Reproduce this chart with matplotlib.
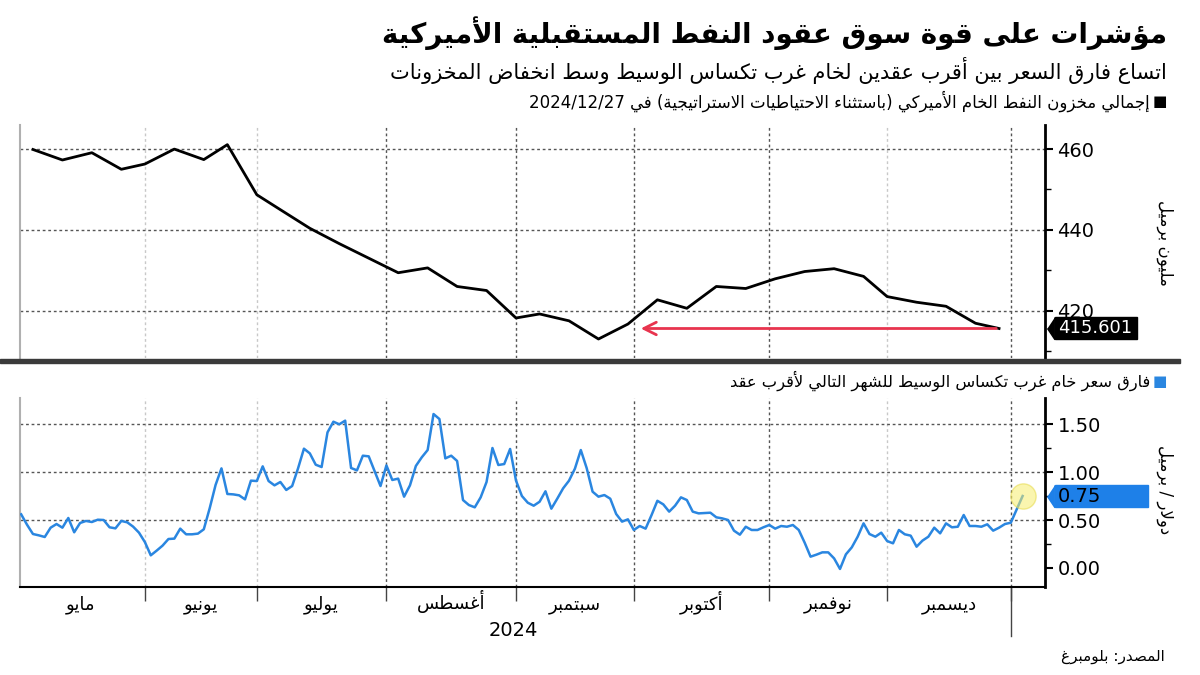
import re
import matplotlib
matplotlib.use("Agg")
import matplotlib.pyplot as plt
import matplotlib.transforms as mtransforms
from matplotlib.patches import Rectangle

# ---------------- minimal Arabic shaping (presentation forms) ----------------
DUAL = {'ئ': 0xFE89, 'ب': 0xFE8F, 'ت': 0xFE95, 'ث': 0xFE99, 'ج': 0xFE9D, 'ح': 0xFEA1,
        'خ': 0xFEA5, 'س': 0xFEB1, 'ش': 0xFEB5, 'ص': 0xFEB9, 'ض': 0xFEBD, 'ط': 0xFEC1,
        'ظ': 0xFEC5, 'ع': 0xFEC9, 'غ': 0xFECD, 'ف': 0xFED1, 'ق': 0xFED5, 'ك': 0xFED9,
        'ل': 0xFEDD, 'م': 0xFEE1, 'ن': 0xFEE5, 'ه': 0xFEE9, 'ي': 0xFEF1}
RIGHT = {'آ': 0xFE81, 'أ': 0xFE83, 'ؤ': 0xFE85, 'إ': 0xFE87, 'ا': 0xFE8D, 'ة': 0xFE93,
         'د': 0xFEA9, 'ذ': 0xFEAB, 'ر': 0xFEAD, 'ز': 0xFEAF, 'و': 0xFEED, 'ى': 0xFEEF}
NONE = {'ء': 0xFE80}
LAMALEF = {'آ': 0xFEF5, 'أ': 0xFEF7, 'إ': 0xFEF9, 'ا': 0xFEFB}


def _shape(s):
    units = []
    i = 0
    while i < len(s):
        c = s[i]
        if c == 'ل' and i + 1 < len(s) and s[i + 1] in LAMALEF:
            units.append(('LA', s[i + 1]))
            i += 2
        else:
            units.append((c, None))
            i += 1

    def jt(u):
        c = u[0]
        if c == 'LA' or c in RIGHT:
            return 'R'
        if c in DUAL or c == 'ـ':
            return 'D'
        return 'U'

    out = []
    for k, u in enumerate(units):
        t = jt(u)
        pj = k > 0 and jt(units[k - 1]) == 'D' and t in 'DR'
        nj = k + 1 < len(units) and t == 'D' and jt(units[k + 1]) in 'DR'
        c, a = u
        if c == 'LA':
            b = LAMALEF[a]
            out.append(chr(b + 1 if pj else b))
        elif c in DUAL:
            b = DUAL[c]
            out.append(chr(b + 3 if (pj and nj) else b + 1 if pj else b + 2 if nj else b))
        elif c in RIGHT:
            b = RIGHT[c]
            out.append(chr(b + 1 if pj else b))
        elif c in NONE:
            out.append(chr(NONE[c]))
        else:
            out.append(c)
    return ''.join(out)


def ar(text):
    shaped = _shape(text)
    tokens = re.findall(r'[0-9A-Za-z]+(?:[./:,][0-9A-Za-z]+)*|.', shaped, flags=re.S)
    mirror = {'(': ')', ')': '('}
    vis = []
    for t in reversed(tokens):
        if len(t) > 1 or (t.isascii() and t.isalnum()):
            vis.append(t)
        else:
            vis.append(mirror.get(t, t))
    return ''.join(vis)


# ---------------- data ----------------
title = "مؤشرات على قوة سوق عقود النفط المستقبلية الأميركية"
subtitle = "اتساع فارق السعر بين أقرب عقدين لخام غرب تكساس الوسيط وسط انخفاض المخزونات"
top_legend = "إجمالي مخزون النفط الخام الأميركي (باستثناء الاحتياطيات الاستراتيجية) في 2024/12/27"
bottom_legend = "فارق سعر خام غرب تكساس الوسيط للشهر التالي لأقرب عقد"
source = "المصدر: بلومبرغ"
top_unit = "مليون برميل"
bottom_unit = "دولار / برميل"
year_label = "2024"

months = ["مايو", "يونيو", "يوليو", "أغسطس", "سبتمبر", "أكتوبر", "نوفمبر", "ديسمبر"]
# x axis = trading-day index starting 2024-05-01; month-end trading days
month_edges = [-1, 21, 40, 62, 84, 104, 127, 147, 168]

# weekly crude inventories (million barrels), Fridays as trading-day index
inv_x = [2, 7, 12, 17, 21, 26, 31, 35, 40, 44, 49, 54, 59, 64, 69, 74, 79, 84,
         88, 93, 98, 103, 108, 113, 118, 123, 128, 133, 138, 143, 147, 152, 157, 162, 166]
inv_y = [459.9, 457.3, 459.1, 455.0, 456.3, 460.0, 457.4, 461.1, 448.7, 445.0,
         440.4, 436.6, 433.0, 429.4, 430.6, 426.0, 425.0, 418.2, 419.2, 417.5,
         413.0, 416.7, 422.7, 420.6, 426.0, 425.5, 427.9, 429.7, 430.4, 428.5,
         423.5, 422.1, 421.1, 416.9, 415.601]
inv_last = 415.601
arrow_to_x = 104.7

# WTI 1st-2nd month spread ($/bbl), daily from trading day 0
spread = [0.559, 0.45, 0.354, 0.34, 0.323, 0.42, 0.458, 0.42, 0.521, 0.372,
          0.469, 0.49, 0.479, 0.503, 0.5, 0.424, 0.413, 0.49, 0.476, 0.431,
          0.368, 0.27, 0.132, 0.181, 0.233, 0.302, 0.306, 0.41, 0.351, 0.351,
          0.358, 0.403, 0.622, 0.865, 1.038, 0.771, 0.767, 0.757, 0.715, 0.91,
          0.906, 1.059, 0.906, 0.861, 0.896, 0.813, 0.854, 1.038, 1.243, 1.194,
          1.076, 1.052, 1.413, 1.524, 1.497, 1.535, 1.042, 1.017, 1.17, 1.163,
          1.01, 0.854, 1.069, 0.917, 0.931, 0.743, 0.861, 1.063, 1.153, 1.229,
          1.604, 1.552, 1.142, 1.17, 1.115, 0.708, 0.656, 0.632, 0.736, 0.896,
          1.25, 1.073, 1.083, 1.24, 0.91, 0.75, 0.68, 0.649, 0.69, 0.799,
          0.618, 0.722, 0.83, 0.91, 1.035, 1.229, 1.04, 0.795, 0.743, 0.76,
          0.722, 0.563, 0.483, 0.507, 0.396, 0.4375, 0.41, 0.55, 0.70, 0.663,
          0.587, 0.649, 0.736, 0.708, 0.587, 0.569, 0.573, 0.576, 0.528, 0.517,
          0.5, 0.389, 0.347, 0.43, 0.396, 0.396, 0.424, 0.448, 0.41, 0.4375,
          0.43, 0.448, 0.396, 0.264, 0.118, 0.139, 0.163, 0.163, 0.1, -0.01,
          0.142, 0.215, 0.326, 0.465, 0.354, 0.326, 0.368, 0.281, 0.257, 0.396,
          0.351, 0.337, 0.222, 0.285, 0.326, 0.42, 0.361, 0.465, 0.424, 0.43,
          0.552, 0.4375, 0.4375, 0.43, 0.455, 0.389, 0.42, 0.458, 0.472, 0.61,
          0.75]
spread_x = list(range(len(spread)))
spread_last = 0.75

top_ticks = [420, 440, 460]
top_minor = [410, 430, 450]
bot_ticks = [0.0, 0.5, 1.0, 1.5]
bot_minor = [0.25, 0.75, 1.25]

# ---------------- style ----------------
plt.rcParams['font.family'] = ['DejaVu Sans']
BLUE = '#2a86e0'
GRID = '#555555'
LIGHTGRID = '#c8c8c8'
light_edges = {-1, 21, 40, 147}

fig = plt.figure(figsize=(12, 6.75), dpi=100)
L, W = 20 / 1200, 1025 / 1200
ax1 = fig.add_axes([L, 1 - 358 / 675, W, 233 / 675])
ax2 = fig.add_axes([L, 1 - 587 / 675, W, 189 / 675])

XMIN, XMAX = -0.2, 173.8
for ax in (ax1, ax2):
    ax.set_xlim(XMIN, XMAX)
    ax.yaxis.tick_right()
    ax.spines['top'].set_visible(False)
    ax.spines['left'].set_color('#b0b0b0')
    ax.spines['left'].set_linewidth(1.5)
    ax.spines['right'].set_color('black')
    ax.spines['right'].set_linewidth(2)
    for e in month_edges[1:]:
        ax.axvline(e, color=LIGHTGRID if e in light_edges else GRID, lw=1,
                   linestyle=(0, (2, 2)), zorder=1)
    ax.tick_params(axis='y', which='major', length=6, width=1.5, pad=3,
                   labelsize=14, colors='black')
    ax.tick_params(axis='y', which='minor', length=4, width=1, colors='black')

# top panel
ax1.set_ylim(408.3, 465.96)
ax1.spines['bottom'].set_visible(False)
ax1.set_yticks(top_ticks)
ax1.set_yticks(top_minor, minor=True)
ax1.set_xticks([])
for v in top_ticks:
    ax1.axhline(v, color=GRID, lw=1, linestyle=(0, (2, 2)), zorder=1)
ax1.plot(inv_x, inv_y, color='black', lw=2, zorder=3)
ax1.annotate('', xy=(arrow_to_x, inv_last), xytext=(inv_x[-1], inv_last),
             arrowprops=dict(arrowstyle='->,head_length=0.9,head_width=0.45',
                             color='#e8344e', lw=2), zorder=4)

# bottom panel
ax2.set_ylim(-0.198, 1.771)
ax2.spines['bottom'].set_color('black')
ax2.spines['bottom'].set_linewidth(1.5)
ax2.set_yticks(bot_ticks)
ax2.set_yticks(bot_minor, minor=True)
ax2.set_yticklabels([f"{v:.2f}" for v in bot_ticks])
for v in bot_ticks[1:]:
    ax2.axhline(v, color=GRID, lw=1, linestyle=(0, (2, 2)), zorder=1)
ax2.plot(spread_x, spread, color=BLUE, lw=1.8, zorder=3)
ax2.scatter([spread_x[-1]], [spread_last], s=330, color='#f7ee6e', alpha=0.55,
            edgecolor='#e6da4a', linewidth=1, zorder=4, clip_on=False)

ax2.set_xticks(month_edges[1:])
ax2.set_xticklabels([])
ax2.tick_params(axis='x', which='major', length=10, width=1, color='#444444')

tb = mtransforms.blended_transform_factory(ax2.transData, ax2.transAxes)
centers = [(month_edges[i] + month_edges[i + 1]) / 2 for i in range(len(months))]
for cx, m in zip(centers, months):
    ax2.text(cx, -(609 - 587) / 189, ar(m), transform=tb, ha='center',
             va='baseline', fontsize=13)
ax2.plot([month_edges[-1], month_edges[-1]], [0, -0.26], color='#444444', lw=1,
         transform=tb, clip_on=False)
ax2.text((month_edges[0] + month_edges[-1]) / 2, -(630 - 587) / 189, year_label,
         transform=tb, ha='center', va='center', fontsize=14)

# value labels on the right axis
tip = [(0, 0), (1, -1.5), (1, 1.5)]


def value_tag(ax, y, text, fc, tc, right_px, units_per_px, fs):
    tr = mtransforms.blended_transform_factory(ax.transAxes, ax.transData)
    x_tip = (1047 - 20) / 1025
    x_rect = (1055 - 20) / 1025
    h = 22 * units_per_px
    ax.add_patch(Rectangle((x_rect, y - h / 2), (right_px - 1055) / 1025, h,
                           transform=tr, color=fc, clip_on=False, zorder=5))
    ax.plot([x_tip], [y], marker=tip, ms=15.8, color=fc, transform=tr,
            clip_on=False, zorder=5, linestyle='none')
    ax.text((1058 - 20) / 1025, y, text, transform=tr, ha='left', va='center',
            color=tc, fontsize=fs, zorder=6)


value_tag(ax1, inv_last, f"{inv_last:.3f}", 'black', 'white', 1137,
          (465.96 - 408.3) / 233, 13)
value_tag(ax2, spread_last, f"{spread_last:.2f}", '#1e80e8', 'black', 1148,
          (1.771 + 0.198) / 189, 14)

# separator bar between panels
fig.add_artist(Rectangle((0, 1 - 363 / 675), 1180 / 1200, 4 / 675,
                         transform=fig.transFigure, color='#3a3a3a'))

# texts
RX = 1167 / 1200
fig.text(RX, 1 - 33 / 675, ar(title), ha='right', va='center', fontsize=20,
         fontweight='bold')
fig.text(RX, 1 - 70 / 675, ar(subtitle), ha='right', va='center', fontsize=15)
fig.text(RX, 1 - 101 / 675, "■", ha='right', va='center', fontsize=11)
fig.text(1150 / 1200, 1 - 101 / 675, ar(top_legend), ha='right', va='center',
         fontsize=12)
fig.text(RX, 1 - 381 / 675, "■", ha='right', va='center', fontsize=11, color=BLUE)
fig.text(1150 / 1200, 1 - 381 / 675, ar(bottom_legend), ha='right', va='center',
         fontsize=11.7)
fig.text(1165 / 1200, 1 - 657 / 675, ar(source), ha='right', va='center',
         fontsize=11)
fig.text(1165 / 1200, 1 - 243 / 675, ar(top_unit), ha='center', va='center',
         fontsize=12, rotation=270)
fig.text(1165 / 1200, 1 - 490 / 675, ar(bottom_unit), ha='center', va='center',
         fontsize=12, rotation=270)

fig.savefig("out.png", dpi=100)
